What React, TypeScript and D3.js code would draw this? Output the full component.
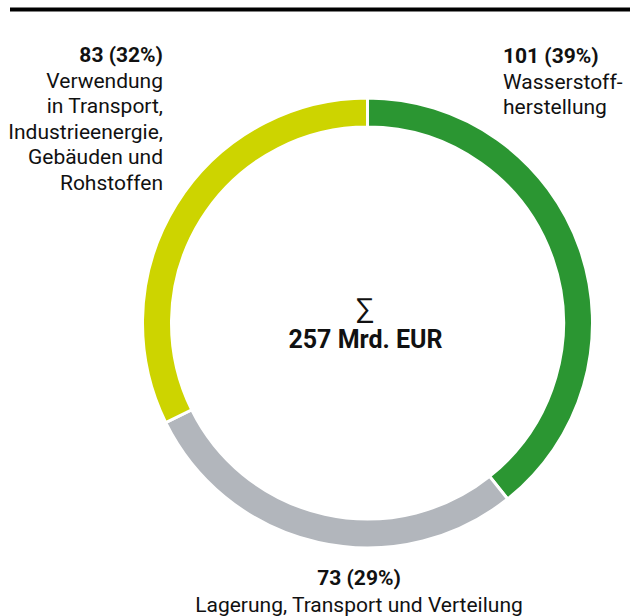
import React from "react";
import * as d3 from "d3";

const categories = ["Wasserstoffherstellung", "Lagerung, Transport und Verteilung", "Verwendung in Transport, Industrieenergie, Gebäuden und Rohstoffen"];
const values = [101, 73, 83];
const percents = [39, 29, 32];
const colors = ["#2b9632", "#b2b6bc", "#cdd400"];
const labelLines = [
  ["Wasserstoff-", "herstellung"],
  ["Lagerung, Transport und Verteilung"],
  ["Verwendung", "in Transport,", "Industrieenergie,", "Gebäuden und", "Rohstoffen"],
];
const totalLabel = "257 Mrd. EUR";

export default function App() {
  const W = 638, H = 616;
  const cx = 367.5, cy = 323;
  const outerR = 225, innerR = 196;
  const pie = d3.pie<number>().sort(null).value((d) => d);
  const arcs = pie(values);
  const arc = d3.arc<d3.PieArcDatum<number>>().innerRadius(innerR).outerRadius(outerR);
  const font = "Roboto, 'Open Sans', sans-serif";
  const fs = 21;
  const lh = 25.5;

  return (
    <svg width={W} height={H} style={{ position: "absolute", left: 0, top: 0 }} fontFamily={font}>
      <rect x={0} y={0} width={W} height={H} fill="#fff" />
      <line x1={10} x2={630} y1={9.5} y2={9.5} stroke="#000" strokeWidth={4} />
      <g transform={`translate(${cx},${cy})`}>
        {arcs.map((a, i) => (
          <path key={categories[i]} d={arc(a) || ""} fill={colors[i]} stroke="#fff" strokeWidth={3} />
        ))}
        <text x={-3} y={-4} textAnchor="middle" fontSize={29} fill="#111">∑</text>
        <text x={-2} y={25} textAnchor="middle" fontSize={25} fontWeight="bold" fill="#111">{totalLabel}</text>
      </g>
      {/* Right label: segment 0 */}
      <text x={503} y={63} fontSize={fs} fill="#111">
        <tspan fontWeight="bold">{`${values[0]} (${percents[0]}%)`}</tspan>
        {labelLines[0].map((l, j) => (
          <tspan key={j} x={503} dy={lh}>{l}</tspan>
        ))}
      </text>
      {/* Bottom label: segment 1 */}
      <text x={359} y={585} fontSize={fs} fill="#111" textAnchor="middle">
        <tspan fontWeight="bold">{`${values[1]} (${percents[1]}%)`}</tspan>
        {labelLines[1].map((l, j) => (
          <tspan key={j} x={359} dy={27}>{l}</tspan>
        ))}
      </text>
      {/* Left label: segment 2 */}
      <text x={163} y={62} fontSize={fs} fill="#111" textAnchor="end">
        <tspan fontWeight="bold">{`${values[2]} (${percents[2]}%)`}</tspan>
        {labelLines[2].map((l, j) => (
          <tspan key={j} x={163} dy={lh}>{l}</tspan>
        ))}
      </text>
    </svg>
  );
}
